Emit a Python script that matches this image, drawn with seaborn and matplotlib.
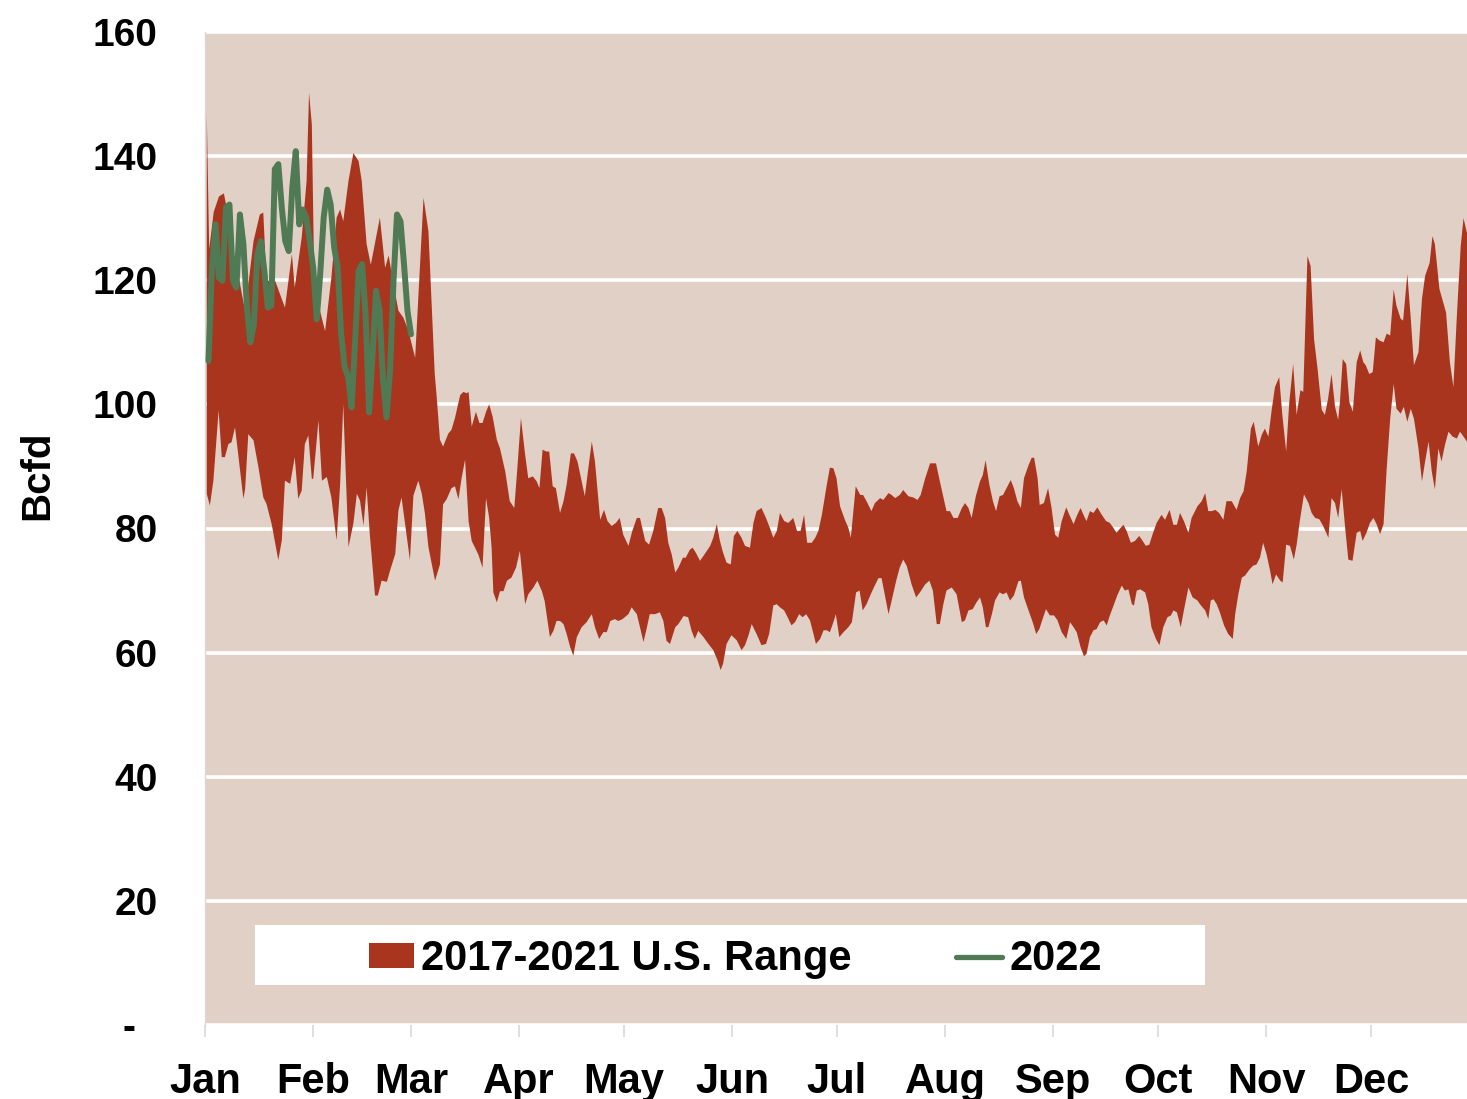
import numpy as np
import pandas as pd
import matplotlib
matplotlib.use("Agg")
import matplotlib.pyplot as plt
import seaborn as sns
from matplotlib.patches import Patch, Rectangle
from matplotlib.lines import Line2D

# ---------------- data ----------------
months = ["Jan", "Feb", "Mar", "Apr", "May", "Jun", "Jul", "Aug", "Sep", "Oct", "Nov", "Dec"]
month_start_day = [0, 31, 59, 90, 120, 151, 181, 212, 243, 273, 304, 334]
y_ticks = [0, 20, 40, 60, 80, 100, 120, 140, 160]
y_tick_labels = ["-  ", "20", "40", "60", "80", "100", "120", "140", "160"]

range_label = "2017-2021 U.S. Range"
line_label = "2022"

# upper edge of the 2017-2021 range (day of year, Bcfd)
max_day = [0.5, 1.2, 2.5, 4.0, 5.4, 6.6, 7.6, 9.5, 11.5, 13.9, 15.7, 16.7, 17.6, 20.1, 22.9,
           24.9, 25.7, 27.7, 29.1, 29.8, 30.6, 31.3, 32.7, 34.4, 36.2, 37.7, 38.7, 39.6, 41.1,
           42.5, 44.0, 44.9, 46.3, 47.5, 50.1, 51.6, 52.6, 53.8, 55.4, 56.8, 58.2, 60.2, 62.6,
           64.0, 65.8, 66.4, 67.3, 68.2, 69.7, 70.6, 71.6, 73.1, 74.0, 75.0, 75.5, 76.4, 77.6,
           78.6, 79.5, 80.5, 81.4, 82.4, 83.6, 84.5, 86.0, 87.3, 88.6, 89.4, 90.5, 91.7, 92.6,
           93.9, 95.0, 95.8, 96.7, 97.8, 98.6, 99.6, 100.5, 101.7, 102.7, 103.6, 104.8, 105.7,
           106.7, 107.9, 108.8, 109.8, 110.8, 111.7, 113.2, 114.3, 115.3, 116.5, 117.7, 118.8,
           119.8, 121.3, 122.4, 123.7, 124.6, 126.1, 127.2, 128.4, 129.8, 130.8, 131.8, 132.7,
           133.7, 134.7, 135.6, 136.9, 137.7, 138.9, 139.7, 140.6, 141.8, 142.8, 144.7, 145.6,
           146.6, 147.5, 148.4, 149.4, 150.6, 151.5, 152.5, 153.7, 154.7, 156.1, 157.1, 158.0,
           159.4, 160.7, 161.8, 162.8, 163.8, 164.7, 165.9, 167.1, 168.5, 169.6, 170.6, 171.6,
           172.5, 173.8, 174.8, 175.7, 176.7, 178.1, 179.0, 180.0, 180.9, 181.9, 183.3, 184.3,
           185.0, 186.4, 187.7, 188.5, 189.5, 190.9, 191.9, 193.4, 194.3, 195.8, 196.7, 197.7,
           199.0, 200.0, 201.5, 202.9, 204.1, 205.0, 206.3, 207.7, 209.4, 210.5, 212.4, 213.4,
           214.4, 215.6, 216.8, 217.7, 218.7, 219.6, 220.8, 222.0, 222.8, 223.6, 224.7, 225.7,
           226.6, 227.6, 228.6, 229.6, 230.8, 231.7, 232.7, 233.7, 234.6, 235.9, 236.8, 237.5,
           238.5, 239.1, 240.3, 241.5, 242.5, 243.5, 244.4, 245.4, 246.7, 247.6, 248.8, 249.7,
           250.8, 251.8, 252.5, 253.5, 254.5, 255.6, 256.9, 258.1, 259.2, 260.2, 261.1, 262.1,
           263.1, 264.0, 265.2, 266.4, 267.6, 268.6, 269.5, 270.5, 271.4, 272.6, 274.0, 275.0,
           276.3, 277.4, 278.4, 279.3, 280.4, 281.7, 282.6, 284.3, 285.5, 286.5, 287.4, 288.4,
           289.4, 290.5, 291.7, 292.6, 294.1, 295.5, 296.5, 297.5, 298.4, 299.6, 300.4, 301.7,
           302.7, 303.6, 304.6, 305.6, 306.5, 307.7, 308.6, 309.7, 310.6, 311.7, 312.7, 313.8,
           314.6, 315.8, 316.7, 317.7, 318.7, 319.9, 320.8, 321.7, 322.7, 323.7, 324.6, 325.1,
           325.9, 326.9, 327.8, 328.8, 329.9, 330.9, 331.8, 332.5, 333.5, 334.5, 335.4, 336.4,
           337.6, 338.5, 339.5, 340.5, 341.3, 342.5, 343.2, 344.4, 345.4, 346.3, 347.6, 348.6,
           349.5, 350.8, 351.6, 352.3, 353.6, 354.7, 355.5, 356.6, 357.6, 358.6, 359.7, 360.5,
           361.5]
max_bcfd = [147.0, 125.0, 131.0, 133.5, 134.0, 130.6, 121.0, 121.0, 115.0, 126.3, 130.6, 130.9,
            119.9, 119.9, 115.6, 124.2, 118.8, 126.9, 136.0, 150.2, 145.1, 119.9, 115.6, 111.8,
            120.4, 130.1, 131.4, 129.5, 136.0, 140.5, 139.2, 136.0, 125.8, 122.5, 130.1, 122.0,
            124.0, 120.0, 115.1, 114.0, 112.0, 107.5, 133.3, 127.9, 105.0, 101.0, 94.3, 93.2,
            95.3, 95.9, 97.8, 101.5, 102.0, 101.8, 102.0, 96.4, 98.8, 97.0, 97.0, 98.8, 100.0,
            98.0, 94.3, 92.9, 89.2, 84.4, 83.3, 89.2, 97.8, 91.9, 88.1, 88.4, 87.6, 86.5, 92.7,
            92.4, 92.4, 86.8, 86.5, 82.5, 84.4, 87.1, 92.1, 92.1, 90.8, 87.6, 85.2, 89.7, 94.0,
            90.8, 81.4, 83.0, 81.2, 80.4, 80.9, 81.7, 79.0, 77.2, 79.6, 81.7, 81.7, 78.0, 77.4,
            79.6, 83.3, 83.3, 81.7, 77.7, 75.8, 72.9, 73.7, 75.3, 75.3, 76.6, 76.9, 76.1, 74.8,
            75.6, 77.2, 78.5, 80.7, 78.0, 76.1, 74.5, 74.2, 78.8, 79.6, 78.5, 77.2, 76.9, 80.9,
            82.8, 83.3, 81.7, 80.1, 78.5, 79.6, 82.5, 81.2, 80.9, 81.7, 79.6, 79.6, 82.2, 77.7,
            77.7, 78.5, 79.6, 82.2, 87.0, 89.8, 89.7, 88.1, 83.6, 81.4, 80.1, 78.5, 86.8, 85.4,
            85.4, 84.4, 82.8, 84.1, 84.9, 84.6, 85.7, 85.4, 84.9, 85.4, 86.2, 85.2, 85.0, 84.6,
            85.4, 88.1, 90.5, 90.5, 87.6, 82.8, 82.8, 81.7, 81.7, 83.3, 84.1, 83.3, 81.7, 85.2,
            87.6, 88.6, 91.0, 87.0, 84.4, 82.8, 85.2, 85.4, 86.5, 87.8, 86.5, 84.4, 83.3, 88.1,
            90.2, 91.4, 91.4, 88.1, 83.8, 84.1, 86.5, 83.3, 79.0, 78.5, 81.2, 83.4, 82.2, 80.7,
            82.0, 83.3, 82.0, 81.2, 82.8, 82.5, 83.4, 82.2, 81.2, 80.9, 80.1, 79.3, 80.0, 80.6,
            79.6, 77.7, 78.0, 78.8, 78.0, 77.2, 77.4, 79.0, 80.9, 82.2, 81.4, 83.0, 80.6, 80.6,
            82.5, 81.2, 79.3, 81.7, 83.6, 84.4, 85.7, 82.8, 82.8, 83.0, 82.5, 81.4, 84.4, 84.4,
            83.0, 84.9, 86.0, 89.2, 96.1, 97.2, 93.2, 95.1, 96.1, 94.8, 99.3, 102.8, 104.4, 98.3,
            92.4, 100.4, 106.5, 98.3, 102.3, 102.0, 123.9, 122.3, 110.5, 105.7, 99.1, 98.3,
            100.9, 104.9, 99.6, 97.5, 100.4, 107.3, 106.5, 100.4, 98.8, 106.8, 108.7, 106.8,
            106.3, 104.9, 105.2, 110.8, 110.3, 110.0, 111.4, 111.1, 118.5, 115.9, 113.8, 113.5,
            121.0, 113.8, 106.3, 108.4, 117.0, 120.7, 122.8, 127.1, 125.8, 118.6, 116.4, 114.8,
            106.8, 102.8, 114.3, 125.5, 130.0, 127.6]

# lower edge of the 2017-2021 range (day of year, Bcfd)
min_day = [0.5, 1.4, 2.4, 3.9, 4.8, 5.7, 6.7, 7.6, 8.6, 9.5, 11.0, 11.5, 12.4, 13.9, 15.3, 16.7,
           17.6, 19.1, 21.0, 22.0, 22.9, 24.4, 25.7, 26.7, 27.7, 28.6, 29.6, 30.6, 31.0, 32.5,
           33.5, 34.9, 36.2, 37.7, 38.7, 39.6, 41.1, 42.5, 43.5, 44.4, 45.4, 46.3, 47.2, 48.7,
           49.5, 50.6, 52.1, 53.0, 54.5, 55.4, 56.3, 57.3, 58.7, 59.7, 61.1, 62.1, 63.0, 64.0,
           65.9, 67.3, 68.2, 69.2, 70.6, 71.6, 72.6, 73.5, 74.5, 75.5, 76.4, 78.3, 79.5, 80.5,
           81.4, 82.1, 82.6, 83.6, 84.5, 85.5, 86.5, 87.8, 89.1, 90.2, 91.7, 92.6, 94.1, 95.2,
           96.5, 97.3, 98.8, 99.8, 100.7, 101.7, 102.7, 103.6, 104.6, 105.5, 106.5, 107.9, 109.3,
           110.8, 111.7, 112.9, 114.1, 115.1, 116.1, 117.4, 118.4, 119.6, 121.3, 122.2, 123.7,
           124.6, 125.6, 126.6, 127.4, 128.9, 130.3, 131.3, 132.2, 133.2, 134.7, 135.6, 137.1,
           138.4, 139.4, 140.3, 141.3, 142.8, 144.2, 145.6, 146.8, 147.7, 148.4, 149.4, 150.8,
           152.3, 153.7, 154.7, 155.7, 156.6, 158.0, 159.4, 160.7, 161.6, 162.8, 163.8, 164.7,
           165.9, 166.9, 168.0, 169.0, 170.2, 171.2, 172.2, 173.3, 174.3, 175.0, 176.2, 177.2,
           178.1, 179.0, 180.0, 180.7, 181.7, 182.9, 184.3, 185.3, 186.5, 187.5, 188.4, 189.5,
           190.7, 191.6, 192.9, 193.8, 194.5, 195.8, 196.7, 198.0, 199.0, 200.0, 201.0, 202.4,
           203.7, 204.8, 206.3, 207.5, 208.5, 209.6, 210.5, 211.5, 212.4, 213.9, 215.3, 216.8,
           217.7, 218.7, 219.9, 221.0, 222.0, 222.8, 223.7, 224.4, 225.4, 226.3, 227.6, 228.6,
           229.6, 230.6, 231.7, 233.0, 233.7, 234.6, 235.9, 237.1, 238.1, 239.0, 240.1, 240.9,
           242.0, 243.2, 244.2, 245.4, 246.7, 247.8, 248.8, 249.7, 250.8, 251.8, 252.5, 253.5,
           254.5, 255.4, 256.4, 257.4, 258.3, 259.2, 260.4, 261.3, 262.6, 263.5, 264.5, 265.5,
           266.1, 266.9, 267.9, 269.3, 270.2, 271.1, 272.4, 273.4, 274.5, 275.7, 276.7, 277.4,
           278.4, 279.5, 280.4, 281.7, 282.9, 284.3, 285.0, 286.5, 287.4, 288.1, 288.9, 289.8,
           290.7, 291.9, 293.1, 294.4, 295.1, 296.0, 297.0, 297.9, 299.2, 300.2, 301.2, 302.2,
           303.1, 304.1, 305.1, 305.8, 306.8, 308.0, 308.7, 309.7, 310.8, 311.9, 312.7, 313.6,
           314.8, 316.1, 317.0, 318.0, 319.2, 320.3, 321.8, 322.7, 323.7, 324.6, 325.6, 326.6,
           327.5, 328.7, 329.9, 330.9, 331.6, 332.7, 333.7, 334.7, 335.6, 336.6, 337.6, 338.5,
           339.5, 340.5, 341.3, 342.5, 343.4, 344.4, 345.4, 346.3, 347.6, 348.6, 349.5, 350.5,
           351.4, 352.3, 353.3, 354.2, 355.2, 356.2, 357.4, 358.6, 359.5, 360.5, 361.5]
min_bcfd = [85.6, 83.7, 87.7, 99.0, 91.5, 91.5, 93.6, 93.9, 96.3, 92.0, 84.8, 86.4, 95.2, 94.2,
            89.9, 85.0, 84.0, 80.7, 74.9, 78.1, 87.7, 87.2, 91.5, 84.8, 86.1, 93.6, 95.0, 88.0,
            88.0, 97.4, 87.7, 88.3, 85.0, 78.1, 87.0, 100.0, 77.0, 80.8, 85.6, 84.5, 80.5, 86.6,
            79.1, 69.2, 69.2, 71.6, 71.4, 73.2, 75.9, 82.9, 85.0, 80.8, 74.9, 85.3, 87.7, 85.6,
            82.4, 77.0, 71.6, 74.2, 83.9, 84.7, 86.5, 86.8, 84.7, 88.1, 91.1, 81.2, 78.0, 75.8,
            73.7, 84.9, 81.7, 76.9, 69.7, 68.1, 69.9, 69.9, 71.6, 72.1, 73.7, 76.4, 67.8, 69.4,
            70.5, 71.6, 69.9, 68.3, 62.5, 63.5, 65.1, 65.1, 64.6, 63.0, 60.9, 59.5, 62.5, 64.1,
            64.9, 66.2, 64.1, 62.2, 63.3, 63.3, 65.1, 65.4, 65.1, 65.4, 66.2, 67.3, 66.2, 64.1,
            61.7, 64.1, 66.2, 66.2, 66.5, 65.1, 61.9, 61.4, 64.1, 64.6, 65.9, 65.7, 63.5, 62.2,
            63.5, 62.5, 61.4, 60.4, 58.8, 57.2, 58.2, 61.4, 62.8, 62.0, 60.4, 61.2, 62.8, 64.6,
            63.0, 61.2, 61.4, 63.0, 67.6, 67.8, 67.3, 66.8, 65.7, 64.4, 64.9, 66.2, 65.7, 66.2,
            65.2, 63.0, 61.4, 62.2, 63.6, 63.6, 63.3, 64.9, 66.2, 62.5, 63.3, 64.1, 64.9, 69.7,
            70.0, 66.8, 67.8, 69.4, 70.5, 72.0, 72.0, 70.0, 66.2, 68.4, 71.6, 73.7, 75.0, 74.0,
            71.0, 68.9, 69.7, 71.0, 71.6, 70.0, 64.6, 64.6, 67.8, 70.0, 70.5, 69.4, 64.9, 65.2,
            66.8, 67.0, 68.1, 68.9, 67.3, 64.1, 64.1, 66.2, 68.4, 69.7, 69.4, 69.7, 68.4, 69.2,
            71.5, 71.6, 68.9, 66.8, 64.9, 63.0, 63.8, 65.7, 67.0, 66.0, 66.0, 65.2, 63.3, 62.2,
            64.9, 64.1, 63.3, 60.9, 59.4, 59.8, 62.5, 63.6, 63.8, 64.9, 65.2, 64.4, 66.0, 67.8,
            69.2, 70.8, 70.0, 70.2, 67.8, 67.6, 70.0, 70.2, 69.7, 67.8, 64.1, 62.2, 61.2, 64.1,
            65.7, 66.0, 66.8, 66.5, 64.1, 66.8, 70.5, 68.9, 68.4, 67.8, 66.8, 65.4, 68.4, 68.6,
            67.8, 66.5, 64.4, 63.0, 62.2, 66.2, 69.4, 72.1, 72.4, 73.4, 74.0, 74.2, 75.3, 77.7,
            75.8, 73.2, 71.0, 72.6, 71.6, 71.3, 77.4, 77.2, 75.0, 77.4, 81.2, 85.5, 84.1, 82.5,
            81.7, 81.5, 80.4, 78.5, 84.9, 84.1, 81.7, 86.3, 80.1, 75.0, 74.8, 79.3, 79.6, 78.0,
            79.3, 80.9, 81.7, 80.7, 79.1, 80.7, 89.7, 97.7, 103.3, 99.3, 98.5, 99.6, 97.2, 99.3,
            97.7, 92.9, 87.6, 90.8, 94.0, 89.2, 86.3, 92.9, 90.8, 93.5, 95.6, 94.8, 94.5, 95.6,
            94.8, 94.0]

# 2022 daily values, Jan 1 - Feb 28 (day of year 1..59)
y2022_day = [1, 2, 3, 4, 5, 6, 7, 8, 9, 10, 11, 12, 13, 14, 15, 16, 17, 18, 19, 20, 21, 22, 23,
             24, 25, 26, 27, 28, 29, 30, 31, 32, 33, 34, 35, 36, 37, 38, 39, 40, 41, 42, 43, 44,
             45, 46, 47, 48, 49, 50, 51, 52, 53, 54, 55, 56, 57, 58, 59]
y2022_bcfd = [107.0, 122.0, 129.0, 120.4, 119.9, 131.7, 132.2, 119.9, 118.8, 130.6, 125.8, 115.6,
              110.0, 112.9, 124.2, 126.3, 121.5, 115.6, 115.9, 137.9, 138.7, 131.7, 126.3, 124.7,
              134.9, 140.8, 129.0, 131.4, 130.1, 126.3, 122.0, 113.7, 121.0, 130.1, 134.6, 132.2,
              125.3, 122.0, 111.3, 106.0, 104.4, 99.5, 110.2, 121.5, 122.6, 114.5, 98.7, 108.0,
              118.3, 115.1, 103.8, 97.9, 105.4, 119.9, 130.6, 129.5, 122.6, 115.1, 111.3]

# ---------------- style ----------------
BG = "#E1D0C6"
RED = "#A9351F"
GREEN = "#4F7A53"

sns.set_theme(style="white")
plt.rcParams["font.family"] = ["Liberation Sans", "DejaVu Sans"]
plt.rcParams["font.weight"] = "bold"
plt.rcParams["axes.labelweight"] = "bold"
plt.rcParams["text.color"] = "black"
plt.rcParams["axes.labelcolor"] = "black"

W, H = 1467, 1099
fig = plt.figure(figsize=(W / 100, H / 100), dpi=100)
fig.patch.set_facecolor("white")
ax = fig.add_axes([205 / W, 74 / H, 1262 / W, 993 / H])
ax.set_facecolor(BG)

# range band
band_x = np.concatenate([np.array(max_day), np.array(min_day)[::-1]])
band_y = np.concatenate([np.array(max_bcfd), np.array(min_bcfd)[::-1]])
ax.fill(band_x, band_y, color=RED, lw=0, zorder=2)

# 2022 line
df22 = pd.DataFrame({"day": y2022_day, "bcfd": y2022_bcfd})
sns.lineplot(data=df22, x="day", y="bcfd", color=GREEN, lw=4.3, ax=ax, zorder=3,
             legend=False, solid_capstyle="round", solid_joinstyle="round")

# axes
ax.set_xlim(0, 361.5)
ax.set_ylim(0, 160)
ax.set_xticks(month_start_day)
ax.set_xticklabels(months)
ax.set_yticks(y_ticks)
ax.set_yticklabels(y_tick_labels)
ax.yaxis.grid(True, color="white", lw=2.6)
ax.xaxis.grid(False)
ax.set_axisbelow(True)
for s in ["top", "right", "bottom"]:
    ax.spines[s].set_visible(False)
ax.spines["left"].set_color("#D9D9D9")
ax.spines["left"].set_linewidth(1.0)
ax.tick_params(axis="x", bottom=True, length=8.6, width=1.2, color="#D9D9D9",
               pad=18, labelsize=30, labelcolor="black")
ax.tick_params(axis="y", left=False, length=0, pad=34, labelsize=28, labelcolor="black")
ax.set_xlabel("")
ax.set_ylabel("Bcfd", fontsize=29, fontweight="bold", color="black")
ax.yaxis.set_label_coords(-0.118, 0.554)

# legend box + legend
ax.add_patch(Rectangle((0.0396, 0.0403), 0.7528, 0.0604, transform=ax.transAxes,
                       facecolor="white", edgecolor="none", zorder=4))
handles = [Patch(facecolor=RED, edgecolor="none"),
           Line2D([], [], color=GREEN, lw=3.8, solid_capstyle="round")]
leg = ax.legend(handles, [range_label, line_label], loc="center",
                bbox_to_anchor=(0.42, 0.066), ncol=2, frameon=False,
                prop={"size": 30, "weight": "bold"}, handlelength=1.1, handleheight=0.55,
                handletextpad=0.17, columnspacing=2.5, borderpad=0.1, labelcolor="black")
leg.set_zorder(5)

fig.savefig("out.png", dpi=100, facecolor="white")
